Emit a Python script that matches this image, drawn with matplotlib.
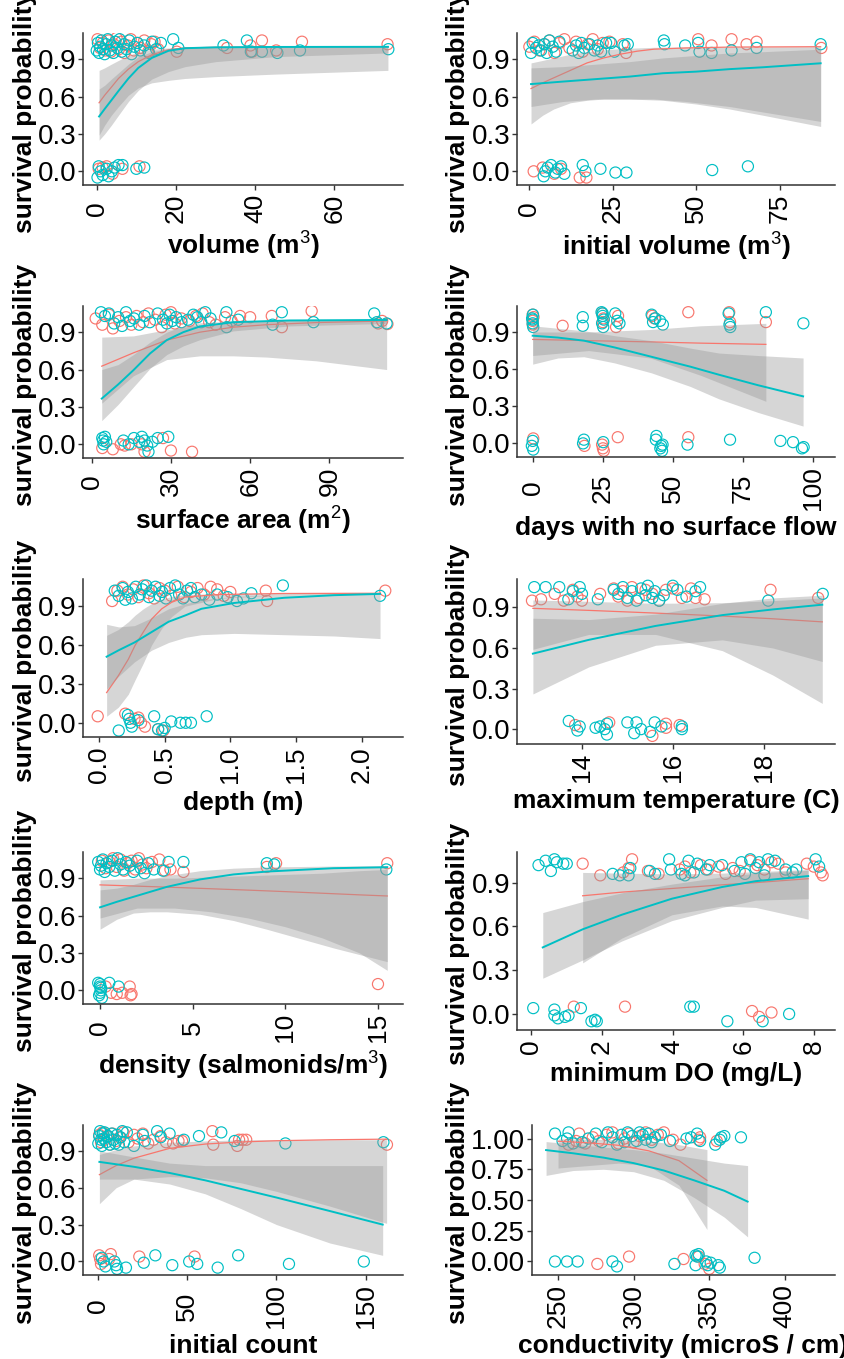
import matplotlib
matplotlib.use('Agg')
import matplotlib.pyplot as plt

plt.rcParams['font.family'] = ['Liberation Sans', 'DejaVu Sans']
plt.rcParams['mathtext.fontset'] = 'custom'
plt.rcParams['mathtext.rm'] = 'Liberation Sans'
plt.rcParams['mathtext.it'] = 'Liberation Sans:italic'
plt.rcParams['mathtext.bf'] = 'Liberation Sans:bold'

RED = '#F8766D'
TEAL = '#00BFC4'

# ---------------- panel 1: volume ----------------
p1_rx = [0.2,0.8,1.5,2.2,3.0,3.6,4.3,5.0,5.6,6.2,7.0,7.8,8.6,9.4,10.2,11.0,12.0,13.0,13.8,14.6,15.5,20.2,32.9,38.8,39.2,41.7,45.3,51.8,73.4,
         0.5,1.5,2.5,4.0,6.5,10.8]
p1_ry = [1.06,0.99,1.03,0.97,1.05,0.96,1.02,1.07,0.98,1.04,0.95,1.01,1.06,0.97,1.03,0.99,1.05,0.96,1.02,1.04,0.98,0.96,0.99,1.01,0.96,1.05,0.97,1.04,1.02,
         0.02,0.03,0.04,-0.02,0.02,0.04]
p1_tx = [0.0,0.3,0.6,0.9,1.2,1.6,2.0,2.4,2.8,3.3,3.8,4.2,4.7,5.2,5.8,6.3,6.9,7.5,8.2,8.8,9.5,10.3,11.0,12.0,13.2,14.0,15.0,16.2,19.3,20.6,32.0,37.9,38.9,41.7,45.6,51.3,73.6,
         0.2,0.5,1.0,1.5,2.5,3.0,3.8,4.5,5.5,6.5,10.0,12.0]
p1_ty = [0.97,1.03,0.95,1.00,1.05,0.98,0.94,1.02,1.06,0.97,1.01,0.95,1.04,0.99,1.06,0.96,1.02,0.98,1.05,0.94,1.00,1.03,0.97,1.01,0.95,1.04,0.98,1.03,1.06,0.99,1.01,1.05,0.96,0.96,0.95,0.97,0.98,
         -0.05,0.04,0.0,-0.03,0.02,-0.04,0.0,0.03,0.05,0.05,0.02,0.03]
p1_fx = [0.6,2,3.7,5.5,8,10.5,13.9,18.1,22.3,30,45,73.5]
p1_t_fit = [0.44,0.50,0.57,0.645,0.745,0.83,0.91,0.967,0.988,0.995,0.998,0.999]
p1_t_lo = [0.25,0.30,0.37,0.45,0.56,0.65,0.74,0.80,0.84,0.88,0.92,0.95]
p1_t_hi = [0.66,0.69,0.74,0.79,0.86,0.92,0.96,0.985,0.995,0.998,0.999,1.0]
p1_r_fit = [0.55,0.61,0.675,0.745,0.82,0.88,0.935,0.975,0.99,0.995,0.998,0.999]
p1_r_lo = [0.29,0.37,0.45,0.52,0.61,0.67,0.71,0.73,0.745,0.76,0.78,0.81]
p1_r_hi = [0.81,0.83,0.86,0.89,0.93,0.96,0.98,0.99,0.996,0.998,0.999,1.0]

# ---------------- panel 2: initial volume ----------------
p2_rx = [0.0,1.5,3.0,4.5,6.0,7.5,9.0,10.5,12.0,14.0,16.0,17.5,19.0,20.5,22.0,24.0,28.0,29.0,50.6,54.6,60.6,65.1,68.1,87.5,
         1.3,4.0,7.5,9.5,15.1,17.1]
p2_ry = [1.00,1.04,0.97,1.02,1.05,0.95,1.03,1.06,0.99,1.04,0.96,1.02,1.06,0.98,1.03,1.04,1.02,0.95,1.06,1.01,1.06,1.02,1.04,0.99,
         0.0,0.03,-0.02,0.02,-0.05,-0.05]
p2_tx = [0.5,1.0,2.0,2.8,3.5,4.5,5.2,6.0,7.0,8.0,9.0,13.0,14.0,14.8,15.6,16.5,18.0,19.5,20.5,21.5,23.0,24.5,25.5,28.5,29.5,40.3,40.5,46.7,50.6,51.0,54.6,60.6,68.1,87.3,
         4.3,4.8,5.5,6.5,7.8,8.5,9.5,10.5,16.0,16.8,21.3,25.8,29.1,54.8,65.5]
p2_ty = [0.95,1.03,0.99,1.01,0.97,1.02,0.95,1.05,1.00,0.96,1.04,0.97,1.01,0.95,1.03,0.99,1.02,0.97,1.01,0.96,1.03,1.03,0.96,1.01,1.02,1.05,1.02,1.01,1.03,0.96,0.95,0.97,0.99,1.02,
         -0.04,0.0,0.03,0.05,-0.01,0.02,0.04,-0.02,0.05,0.0,0.02,-0.01,-0.01,0.01,0.04]
p2_r_fx = [0.5,4,7.3,12.3,17.3,22.3,27.3,32.3,37.3,47,60,87.3]
p2_r_fit = [0.664,0.71,0.75,0.81,0.87,0.91,0.94,0.964,0.98,0.99,0.997,1.0]
p2_r_lo = [0.38,0.45,0.50,0.55,0.57,0.58,0.58,0.58,0.58,0.56,0.52,0.40]
p2_r_hi = [0.87,0.89,0.91,0.94,0.96,0.975,0.985,0.99,0.995,0.998,0.999,1.0]
p2_t_fx = [0.5,10,20,30,40,50,60,70,87.3]
p2_t_fit = [0.70,0.72,0.74,0.76,0.787,0.80,0.82,0.835,0.867]
p2_t_lo = [0.52,0.56,0.58,0.58,0.57,0.54,0.50,0.45,0.36]
p2_t_hi = [0.83,0.84,0.86,0.88,0.91,0.93,0.95,0.96,0.98]

# ---------------- panel 3: surface area ----------------
p3_rx = [1.5,4.0,6.5,8.0,10.5,13.0,15.0,17.0,19.5,21.5,24.0,26.5,28.0,30.0,31.5,34.0,37.0,39.5,42.0,44.5,47.0,50.5,53.0,56.2,60.0,68.2,72.0,83.3,108.5,110.0,112.0,
         4.0,8.0,11.0,12.5,15.0,19.0,20.0,27.0,30.0,38.0]
p3_ry = [1.01,0.96,1.04,0.93,0.99,1.02,0.96,1.03,0.98,1.05,1.00,0.94,1.04,1.06,0.97,1.01,0.99,1.03,1.05,0.98,0.96,1.02,0.99,1.03,1.02,1.03,0.94,1.07,0.97,0.99,0.965,
         -0.03,-0.04,0.0,-0.01,0.0,0.0,-0.06,0.05,-0.05,-0.06]
p3_tx = [3.5,5.0,6.5,8.5,10.0,11.5,13.0,14.5,16.0,18.0,20.0,22.0,25.0,27.0,28.5,29.5,30.5,32.0,34.0,36.5,38.5,40.0,41.5,43.0,45.0,51.0,51.1,55.5,68.5,72.0,84.0,107.0,108.0,111.7,
         4.0,4.3,4.5,5.0,5.5,12.0,14.0,16.0,18.0,19.0,20.0,21.0,21.5,23.0,25.0,29.0]
p3_ty = [1.06,1.03,1.05,0.97,1.02,0.95,1.06,0.99,1.01,0.96,1.03,0.98,1.05,1.00,0.97,1.04,0.99,1.02,0.98,1.00,1.04,1.02,0.98,1.06,1.01,1.06,0.94,1.00,0.96,1.06,0.98,1.05,0.98,0.97,
         0.05,0.03,0.0,0.06,0.02,0.03,0.0,0.05,0.02,0.06,0.03,-0.01,-0.06,0.02,0.05,0.06]
p3_t_fx = [3.8,10,15.8,22.1,28.4,34.7,41,53.6,75,111.7]
p3_t_fit = [0.367,0.48,0.595,0.729,0.836,0.90,0.946,0.98,0.994,0.998]
p3_t_lo = [0.19,0.32,0.46,0.61,0.72,0.79,0.84,0.91,0.95,0.97]
p3_t_hi = [0.60,0.64,0.72,0.82,0.90,0.95,0.975,0.99,0.998,1.0]
p3_r_fx = [3.8,15.8,28.4,41,53.6,66.3,85,111.7]
p3_r_fit = [0.627,0.734,0.836,0.90,0.94,0.96,0.977,0.99]
p3_r_lo = [0.33,0.55,0.68,0.71,0.71,0.70,0.67,0.60]
p3_r_hi = [0.86,0.87,0.92,0.96,0.98,0.99,0.995,0.999]

# ---------------- panel 4: days with no surface flow ----------------
p4_rx = [0.0,0.0,0.0,0.3,10.7,24.8,25.0,25.3,29.8,30.5,42.7,43.5,55.6,70.2,70.5,83.3,
         0.2,18.5,24.8,25.1,25.4,30.4,55.6]
p4_ry = [1.04,0.99,0.96,1.02,0.95,1.05,0.98,1.01,0.94,1.03,1.03,1.01,1.06,1.06,0.98,0.98,
         0.04,-0.02,-0.01,-0.04,-0.06,0.05,0.05]
p4_tx = [-0.2,0.0,0.1,0.2,0.0,17.9,17.9,24.6,24.8,25.0,25.2,25.4,25.0,29.5,30.2,31.0,42.5,43.0,43.8,45.5,46.5,70.0,70.3,70.6,83.3,96.7,
         0.0,-0.3,0.2,18.3,18.0,25.2,44.2,44.0,45.9,46.4,46.2,45.6,55.3,70.5,88.5,93.0,96.2,96.8]
p4_ty = [1.01,0.97,1.04,0.94,1.00,1.02,0.95,1.06,0.97,1.03,0.94,1.00,1.05,1.05,0.99,0.97,1.04,0.98,1.01,0.99,0.96,1.05,0.96,0.94,1.06,0.97,
         0.02,-0.02,-0.05,0.03,0.0,0.01,0.06,0.03,-0.02,-0.01,-0.06,-0.04,-0.01,0.03,0.02,0.01,-0.04,-0.03]
p4_t_fx = [0,9,18.3,29.3,42.4,56.3,66.5,80.5,96.6]
p4_t_fit = [0.87,0.855,0.83,0.775,0.70,0.62,0.555,0.47,0.38]
p4_t_lo = [0.64,0.69,0.70,0.65,0.57,0.46,0.36,0.25,0.14]
p4_t_hi = [0.95,0.93,0.91,0.87,0.83,0.77,0.73,0.71,0.69]
p4_r_fx = [0,20,42,60,83.3]
p4_r_fit = [0.84,0.83,0.82,0.81,0.80]
p4_r_lo = [0.71,0.75,0.69,0.55,0.34]
p4_r_hi = [0.90,0.90,0.92,0.95,0.97]

# ---------------- panel 5: depth ----------------
p5_rx = [0.10,0.14,0.18,0.22,0.26,0.30,0.34,0.38,0.42,0.46,0.50,0.55,0.60,0.65,0.70,0.75,0.80,0.85,0.90,0.95,1.00,1.27,1.28,2.18,
         -0.01,0.20,0.27,0.30,0.32,0.35,0.45,0.49]
p5_ry = [0.94,1.02,1.05,0.99,1.03,0.97,1.06,1.00,0.96,1.04,1.02,0.98,1.05,0.97,1.01,1.04,0.99,1.05,1.03,0.98,1.01,1.02,0.94,1.02,
         0.05,0.07,0.03,0.04,0.0,-0.03,-0.05,-0.06]
p5_tx = [0.12,0.15,0.18,0.20,0.22,0.25,0.28,0.31,0.33,0.36,0.38,0.40,0.43,0.46,0.48,0.51,0.54,0.58,0.61,0.64,0.67,0.70,0.73,0.78,0.84,0.90,0.98,1.05,1.10,1.16,1.40,2.14,
         0.15,0.22,0.23,0.24,0.25,0.30,0.42,0.45,0.48,0.50,0.55,0.62,0.66,0.70,0.82]
p5_ty = [1.02,0.98,1.04,0.95,1.01,0.96,1.05,0.99,1.03,1.06,0.97,1.02,1.05,0.98,1.01,0.96,1.04,1.06,0.99,0.96,1.02,1.04,0.97,0.99,0.95,0.99,0.97,0.94,0.96,1.0,1.06,0.98,
         -0.06,0.06,0.03,0.0,-0.03,0.02,0.05,-0.05,-0.06,-0.04,0.01,0.0,0.0,0.0,0.05]
p5_t_fx = [0.058,0.15,0.27,0.40,0.53,0.66,0.78,1.03,1.41,1.79,2.14]
p5_t_fit = [0.51,0.56,0.62,0.70,0.78,0.83,0.88,0.925,0.965,0.985,0.995]
p5_t_lo = [0.26,0.36,0.47,0.56,0.62,0.66,0.68,0.69,0.68,0.67,0.65]
p5_t_hi = [0.76,0.74,0.75,0.81,0.88,0.92,0.95,0.975,0.99,0.997,1.0]
p5_r_fx = [0.058,0.147,0.223,0.274,0.337,0.40,0.478,0.553,0.655,0.91,1.4,2.14]
p5_r_fit = [0.233,0.363,0.49,0.596,0.70,0.80,0.88,0.93,0.97,0.99,0.998,1.0]
p5_r_lo = [0.05,0.12,0.22,0.33,0.46,0.60,0.73,0.82,0.90,0.96,0.99,0.995]
p5_r_hi = [0.675,0.72,0.78,0.83,0.88,0.92,0.955,0.975,0.99,0.998,1.0,1.0]

# ---------------- panel 6: maximum temperature ----------------
p6_rx = [12.9,13.1,13.4,13.6,13.8,13.9,14.0,14.4,14.7,14.8,14.9,15.0,15.1,15.25,15.4,15.55,15.7,15.85,16.0,16.2,16.4,16.5,16.7,18.15,19.2,
         13.85,14.6,15.55,15.85,15.85,16.15]
p6_ry = [0.95,0.96,1.00,0.95,1.03,0.98,0.95,1.00,1.04,0.98,1.02,0.95,1.05,0.97,1.03,1.00,0.95,1.03,1.04,0.97,1.04,0.97,0.96,1.03,0.97,
         0.03,0.05,-0.05,0.04,0.01,0.03]
p6_tx = [12.95,13.2,13.5,13.7,13.8,13.95,14.0,14.35,14.7,14.8,14.9,15.0,15.1,15.2,15.3,15.4,15.45,15.55,15.6,15.7,15.8,16.0,16.1,16.3,16.5,16.6,18.1,19.3,
         13.71,13.9,13.95,14.3,14.4,14.5,14.55,14.55,15.0,15.15,15.2,15.3,15.5,15.6,15.75,16.2,16.2]
p6_ty = [1.05,1.05,1.05,0.96,1.02,1.05,1.00,0.96,1.03,1.00,1.05,0.97,1.02,0.95,1.04,0.99,1.06,0.97,1.02,0.95,0.99,1.06,1.03,0.98,1.02,1.05,0.95,1.00,
         0.06,-0.01,0.02,0.01,0.02,0.0,0.04,-0.04,0.05,-0.03,0.05,0.0,-0.02,0.05,0.02,0.02,0.0]
p6_fx = [12.92,14.15,15.62,17.09,18.2,19.29]
p6_t_fit = [0.558,0.66,0.763,0.843,0.885,0.92]
p6_t_lo = [0.26,0.46,0.62,0.66,0.60,0.50]
p6_t_hi = [0.82,0.81,0.85,0.93,0.97,0.99]
p6_r_fit = [0.893,0.878,0.858,0.836,0.816,0.793]
p6_r_lo = [0.59,0.70,0.70,0.58,0.40,0.19]
p6_r_hi = [0.955,0.945,0.93,0.935,0.95,0.97]

# ---------------- panel 7: density ----------------
p7_rx = [0.1,0.3,0.5,0.7,0.9,1.1,1.3,1.5,1.7,1.9,2.1,2.3,2.5,2.8,3.2,3.5,3.8,4.5,9.0,9.5,15.5,
         0.3,0.6,0.9,1.2,1.6,1.7,1.65,15.0]
p7_ry = [1.04,0.98,1.03,1.06,0.99,1.05,0.96,1.02,1.04,0.97,1.06,1.01,0.98,1.03,1.05,0.96,0.97,0.95,0.99,1.02,1.02,
         0.03,-0.02,-0.03,-0.02,0.03,-0.03,-0.04,0.05]
p7_tx = [-0.1,0.0,0.05,0.15,0.25,0.35,0.5,0.65,0.8,0.95,1.1,1.25,1.4,1.6,1.8,2.0,2.2,2.4,2.6,2.9,3.4,3.7,4.5,9.0,9.4,15.45,
         -0.1,0.0,0.05,0.0,-0.05,0.1,0.0,0.05,0.5,1.0]
p7_ty = [1.03,0.97,1.00,1.05,0.95,1.02,0.99,1.04,0.96,1.06,1.01,0.97,1.03,1.00,0.95,1.04,0.98,0.94,1.02,0.97,0.96,1.03,1.03,1.02,1.01,0.97,
         0.06,0.03,0.0,-0.02,-0.04,-0.06,0.05,0.02,0.06,0.03]
p7_t_fx = [0,0.9,1.8,2.7,3.6,4.5,5.4,7.2,9.0,12.6,15.5]
p7_t_fit = [0.666,0.71,0.75,0.79,0.83,0.86,0.89,0.93,0.953,0.98,0.988]
p7_t_lo = [0.49,0.57,0.62,0.63,0.63,0.62,0.61,0.56,0.49,0.34,0.23]
p7_t_hi = [0.806,0.82,0.85,0.89,0.92,0.94,0.96,0.98,0.99,0.997,1.0]
p7_r_fx = [0,2,4,6,8,10,12,14,15.5]
p7_r_fit = [0.846,0.836,0.826,0.815,0.804,0.792,0.779,0.766,0.757]
p7_r_lo = [0.58,0.66,0.66,0.63,0.58,0.51,0.42,0.30,0.16]
p7_r_hi = [0.886,0.90,0.90,0.91,0.92,0.93,0.94,0.96,0.97]

# ---------------- panel 8: minimum DO ----------------
p8_rx = [1.45,1.95,2.6,2.75,2.85,3.3,3.6,4.2,4.35,4.5,4.8,5.0,5.3,5.5,5.7,5.9,6.2,6.4,6.6,6.8,7.0,7.2,7.8,8.0,8.2,8.25,
         1.2,2.65,6.25,6.45,6.8]
p8_ry = [1.03,0.95,0.97,1.00,1.06,0.98,0.96,0.99,1.01,0.97,1.02,0.99,1.01,0.96,1.00,0.98,1.05,1.02,0.99,1.04,1.03,0.97,1.03,1.01,0.97,0.95,
         0.05,0.05,0.02,-0.02,0.01]
p8_tx = [0.2,0.4,0.55,0.65,0.72,0.9,1.0,2.3,2.5,2.75,2.8,3.35,3.5,3.9,3.95,4.25,4.35,4.45,4.6,4.7,4.95,5.05,5.4,5.75,5.95,6.05,6.2,6.35,6.45,6.6,6.7,6.9,7.2,7.4,7.5,8.05,8.15,
         0.05,0.65,0.65,0.75,0.95,1.05,1.4,1.7,1.8,1.85,4.5,4.6,5.55,6.55,7.3]
p8_ty = [1.02,1.05,0.98,1.06,1.04,1.03,1.03,0.96,0.95,0.95,1.00,0.98,0.96,1.06,0.99,0.96,0.95,1.05,0.97,1.03,0.99,1.02,1.02,0.98,1.04,0.96,1.06,1.00,1.04,0.95,1.06,1.05,0.99,0.97,0.99,1.06,1.01,
         0.04,0.03,-0.01,-0.03,-0.02,-0.01,0.04,-0.05,-0.04,-0.05,0.05,0.05,-0.05,-0.05,0.0]
p8_t_fx = [0.32,1.45,2.56,3.98,5.4,6.35,7.84]
p8_t_fit = [0.456,0.58,0.68,0.79,0.87,0.91,0.945]
p8_t_lo = [0.245,0.37,0.50,0.64,0.73,0.78,0.79]
p8_t_hi = [0.695,0.77,0.83,0.89,0.94,0.965,0.985]
p8_r_fx = [1.45,2.56,3.98,5.4,6.35,7.84]
p8_r_fit = [0.81,0.835,0.86,0.885,0.90,0.927]
p8_r_lo = [0.35,0.52,0.68,0.74,0.73,0.65]
p8_r_hi = [0.97,0.965,0.96,0.965,0.975,0.99]

# ---------------- panel 9: initial count ----------------
p9_rx = [0.5,1.5,2.5,3.5,5.0,6.5,8.0,10.0,12.0,14.0,17.0,20.0,22.0,25.0,28.0,31.0,35.0,38.0,42.0,45.0,47.0,64.0,64.5,78.0,79.0,81.0,83.0,162.0,
         0.5,1.0,1.5,6.0,7.0,23.0,54.0]
p9_ry = [1.03,0.97,1.05,0.99,1.02,0.95,1.04,0.98,1.01,1.05,0.97,1.03,1.00,1.04,0.96,0.99,1.02,0.97,0.96,0.98,0.98,1.06,0.95,0.94,0.99,0.99,0.99,0.95,
         0.05,0.02,-0.02,0.02,0.06,0.04,0.04]
p9_tx = [0.0,0.5,1.0,1.5,2.0,2.5,3.0,3.5,4.5,5.5,6.5,7.5,8.5,9.5,10.5,11.5,12.5,13.5,14.5,16.0,20.0,25.0,26.0,33.0,35.0,40.0,48.0,56.5,69.0,76.5,105.0,160.0,
         2.0,3.0,4.0,9.0,10.0,10.5,15.5,25.5,32.0,41.5,51.0,55.5,67.0,78.5,107.0,149.0]
p9_ty = [0.96,1.02,1.06,0.99,0.94,1.04,1.00,1.05,0.97,1.02,0.95,1.04,0.99,0.96,1.03,0.95,1.01,1.06,0.97,1.05,0.94,1.03,0.98,1.06,1.01,1.04,0.99,1.02,1.05,0.98,0.96,0.97,
         0.03,0.0,-0.04,0.0,-0.03,-0.06,-0.05,-0.01,0.05,-0.03,0.0,-0.02,-0.05,0.05,-0.02,0.0]
p9_t_fx = [0.6,20,40,60,80,100,130,159.6]
p9_t_fit = [0.81,0.77,0.72,0.66,0.59,0.52,0.41,0.30]
p9_t_lo = [0.67,0.67,0.63,0.55,0.43,0.30,0.15,0.05]
p9_t_hi = [0.90,0.85,0.80,0.78,0.78,0.78,0.78,0.78]
p9_r_fx = [0.6,10,20,40,60,80,100,130,161.8]
p9_r_fit = [0.706,0.78,0.84,0.92,0.955,0.972,0.982,0.99,0.995]
p9_r_lo = [0.47,0.60,0.67,0.69,0.68,0.64,0.57,0.45,0.31]
p9_r_hi = [0.87,0.91,0.94,0.97,0.98,0.99,0.99,0.99,0.99]

# ---------------- panel 10: conductivity ----------------
p10_rx = [257,262,264,268,273,277,282,286,290,294,297,300,304,308,312,316,320,326,331,343,344,355,
          276,297,333,343,347,350]
p10_ry = [0.95,0.98,1.04,0.96,1.01,0.98,1.03,1.05,0.96,1.00,1.04,0.97,1.02,1.05,0.99,1.03,1.05,0.99,0.95,0.99,1.01,0.98,
          -0.02,0.04,0.02,0.04,-0.02,-0.06]
p10_tx = [248,253,256,257,260,266,270,275,279,283,286,289,292,294,296,299,302,304,306,308,310,312,314,318,324,335,338,342,344,354,357,358,360,371,
          248,256,263,286,289,327,341,342,343,341,348,349,351,356,357,380]
p10_ty = [1.04,0.98,1.0,1.05,0.96,0.97,1.00,1.04,0.97,1.05,1.01,0.95,1.03,0.97,1.05,1.02,0.98,1.05,1.03,0.99,1.04,0.97,1.01,1.03,0.98,1.0,1.01,1.04,0.98,0.95,0.99,1.01,1.02,1.01,
          0.0,0.0,0.0,0.0,-0.04,-0.02,0.05,0.04,0.06,-0.03,0.0,-0.03,-0.01,-0.03,-0.05,0.03]
p10_t_fx = [242.1,260,280,300,320,340,360,375.4]
p10_t_fit = [0.906,0.88,0.845,0.80,0.74,0.66,0.575,0.487]
p10_t_lo = [0.70,0.74,0.75,0.73,0.66,0.52,0.36,0.20]
p10_t_hi = [0.975,0.955,0.93,0.91,0.88,0.84,0.80,0.78]
p10_r_fx = [250,270,290,310,330,348.5]
p10_r_fit = [0.978,0.965,0.945,0.90,0.82,0.66]
p10_r_lo = [0.76,0.78,0.80,0.78,0.62,0.26]
p10_r_hi = [0.997,0.995,0.99,0.98,0.95,0.91]

# ---------------- axis labels / ticks ----------------
xlabels = ['volume (m$^3$)', 'initial volume (m$^3$)', 'surface area (m$^2$)',
           'days with no surface flow', 'depth (m)', 'maximum temperature (C)',
           'density (salmonids/m$^3$)', 'minimum DO (mg/L)', 'initial count',
           'conductivity (microS / cm)']
xticks = [[0,20,40,60],[0,25,50,75],[0,30,60,90],[0,25,50,75,100],[0,0.5,1.0,1.5,2.0],
          [14,16,18],[0,5,10,15],[0,2,4,6,8],[0,50,100,150],[250,300,350,400]]
xticklabels = [['0','20','40','60'],['0','25','50','75'],['0','30','60','90'],
               ['0','25','50','75','100'],['0.0','0.5','1.0','1.5','2.0'],
               ['14','16','18'],['0','5','10','15'],['0','2','4','6','8'],
               ['0','50','100','150'],['250','300','350','400']]
xlims = [(-3.46,77.3),(-3.7,91.6),(-3.3,117.9),(-5.6,108),(-0.122,2.315),
         (12.57,19.57),(-0.92,16.35),(-0.41,8.6),(-8.6,171),(232.8,433.2)]
yticks_a = [0,0.3,0.6,0.9]
ytl_a = ['0.0','0.3','0.6','0.9']
yticks_b = [0,0.25,0.5,0.75,1.0]
ytl_b = ['0.00','0.25','0.50','0.75','1.00']
ylabel = 'survival probability'

# layout in pixels: left, top, right, bottom of plotting panel
boxes = [(83,33,403,185),(517,33,835,185),(83,306,403,458),(517,306,835,457),
         (83,579,403,737),(517,579,835,744),(83,852,403,1004),(517,852,835,1030),
         (83,1125,403,1275),(532,1125,835,1275)]
xlab_base = [255,256,530,535,810,808,1075,1081,1353,1353]

panels = [
    dict(rx=p1_rx, ry=p1_ry, tx=p1_tx, ty=p1_ty, rfx=p1_fx, rfit=p1_r_fit, rlo=p1_r_lo, rhi=p1_r_hi,
         tfx=p1_fx, tfit=p1_t_fit, tlo=p1_t_lo, thi=p1_t_hi),
    dict(rx=p2_rx, ry=p2_ry, tx=p2_tx, ty=p2_ty, rfx=p2_r_fx, rfit=p2_r_fit, rlo=p2_r_lo, rhi=p2_r_hi,
         tfx=p2_t_fx, tfit=p2_t_fit, tlo=p2_t_lo, thi=p2_t_hi),
    dict(rx=p3_rx, ry=p3_ry, tx=p3_tx, ty=p3_ty, rfx=p3_r_fx, rfit=p3_r_fit, rlo=p3_r_lo, rhi=p3_r_hi,
         tfx=p3_t_fx, tfit=p3_t_fit, tlo=p3_t_lo, thi=p3_t_hi),
    dict(rx=p4_rx, ry=p4_ry, tx=p4_tx, ty=p4_ty, rfx=p4_r_fx, rfit=p4_r_fit, rlo=p4_r_lo, rhi=p4_r_hi,
         tfx=p4_t_fx, tfit=p4_t_fit, tlo=p4_t_lo, thi=p4_t_hi),
    dict(rx=p5_rx, ry=p5_ry, tx=p5_tx, ty=p5_ty, rfx=p5_r_fx, rfit=p5_r_fit, rlo=p5_r_lo, rhi=p5_r_hi,
         tfx=p5_t_fx, tfit=p5_t_fit, tlo=p5_t_lo, thi=p5_t_hi),
    dict(rx=p6_rx, ry=p6_ry, tx=p6_tx, ty=p6_ty, rfx=p6_fx, rfit=p6_r_fit, rlo=p6_r_lo, rhi=p6_r_hi,
         tfx=p6_fx, tfit=p6_t_fit, tlo=p6_t_lo, thi=p6_t_hi),
    dict(rx=p7_rx, ry=p7_ry, tx=p7_tx, ty=p7_ty, rfx=p7_r_fx, rfit=p7_r_fit, rlo=p7_r_lo, rhi=p7_r_hi,
         tfx=p7_t_fx, tfit=p7_t_fit, tlo=p7_t_lo, thi=p7_t_hi),
    dict(rx=p8_rx, ry=p8_ry, tx=p8_tx, ty=p8_ty, rfx=p8_r_fx, rfit=p8_r_fit, rlo=p8_r_lo, rhi=p8_r_hi,
         tfx=p8_t_fx, tfit=p8_t_fit, tlo=p8_t_lo, thi=p8_t_hi),
    dict(rx=p9_rx, ry=p9_ry, tx=p9_tx, ty=p9_ty, rfx=p9_r_fx, rfit=p9_r_fit, rlo=p9_r_lo, rhi=p9_r_hi,
         tfx=p9_t_fx, tfit=p9_t_fit, tlo=p9_t_lo, thi=p9_t_hi),
    dict(rx=p10_rx, ry=p10_ry, tx=p10_tx, ty=p10_ty, rfx=p10_r_fx, rfit=p10_r_fit, rlo=p10_r_lo, rhi=p10_r_hi,
         tfx=p10_t_fx, tfit=p10_t_fit, tlo=p10_t_lo, thi=p10_t_hi),
]

W, H = 844, 1359
fig = plt.figure(figsize=(W / 100, H / 100), dpi=100)

YTICK_FS = 20
XTICK_FS = 19
LAB_FS = 19
AXCOL = '#333333'
BAND = '#999999'

for i, p in enumerate(panels):
    l, t, r, b = boxes[i]
    ax = fig.add_axes([l / W, 1 - b / H, (r - l) / W, (b - t) / H])
    ax.scatter(p['rx'], p['ry'], s=64, facecolors='none', edgecolors=RED, linewidths=0.85, zorder=2)
    ax.scatter(p['tx'], p['ty'], s=64, facecolors='none', edgecolors=TEAL, linewidths=0.85, zorder=2)
    ax.fill_between(p['rfx'], p['rlo'], p['rhi'], color=BAND, alpha=0.4, linewidth=0, zorder=3)
    ax.plot(p['rfx'], p['rfit'], color=RED, lw=0.9, zorder=3)
    ax.fill_between(p['tfx'], p['tlo'], p['thi'], color=BAND, alpha=0.4, linewidth=0, zorder=3)
    ax.plot(p['tfx'], p['tfit'], color=TEAL, lw=1.4, zorder=3)

    ax.set_xlim(*xlims[i])
    ax.set_ylim(-0.11, 1.11)
    for s in ['top', 'right']:
        ax.spines[s].set_visible(False)
    for s in ['left', 'bottom']:
        ax.spines[s].set_color(AXCOL)
        ax.spines[s].set_linewidth(1.1)
    if i == 9:
        ax.set_yticks(yticks_b)
        ax.set_yticklabels(ytl_b)
    else:
        ax.set_yticks(yticks_a)
        ax.set_yticklabels(ytl_a)
    ax.set_xticks(xticks[i])
    ax.set_xticklabels(xticklabels[i])
    maxlen = max(len(s) for s in xticklabels[i])
    ndot = max(s.count('.') for s in xticklabels[i])
    lab_len_pt = ((maxlen - ndot) * 0.556 + ndot * 0.278) * XTICK_FS
    ax.tick_params(axis='both', which='both', direction='out', length=3.5, width=1.0,
                   color=AXCOL, labelcolor='black')
    ax.tick_params(axis='y', pad=1.5, labelsize=YTICK_FS)
    ax.tick_params(axis='x', pad=3 + lab_len_pt / 2, labelsize=XTICK_FS)
    for lbl in ax.get_xticklabels():
        lbl.set_rotation(90)
        lbl.set_va('center')
        lbl.set_ha('center')

    # x label
    fig.text(((l + r) / 2) / W, 1 - xlab_base[i] / H, xlabels[i], ha='center', va='baseline',
             fontsize=LAB_FS, fontweight='bold')
    # y label
    xc = 25 if l < 400 else 458
    fig.text(xc / W, 1 - ((t + b) / 2 + 3) / H, ylabel, rotation=90, ha='center', va='center',
             fontsize=LAB_FS, fontweight='bold')

fig.savefig('out.png', dpi=100)
